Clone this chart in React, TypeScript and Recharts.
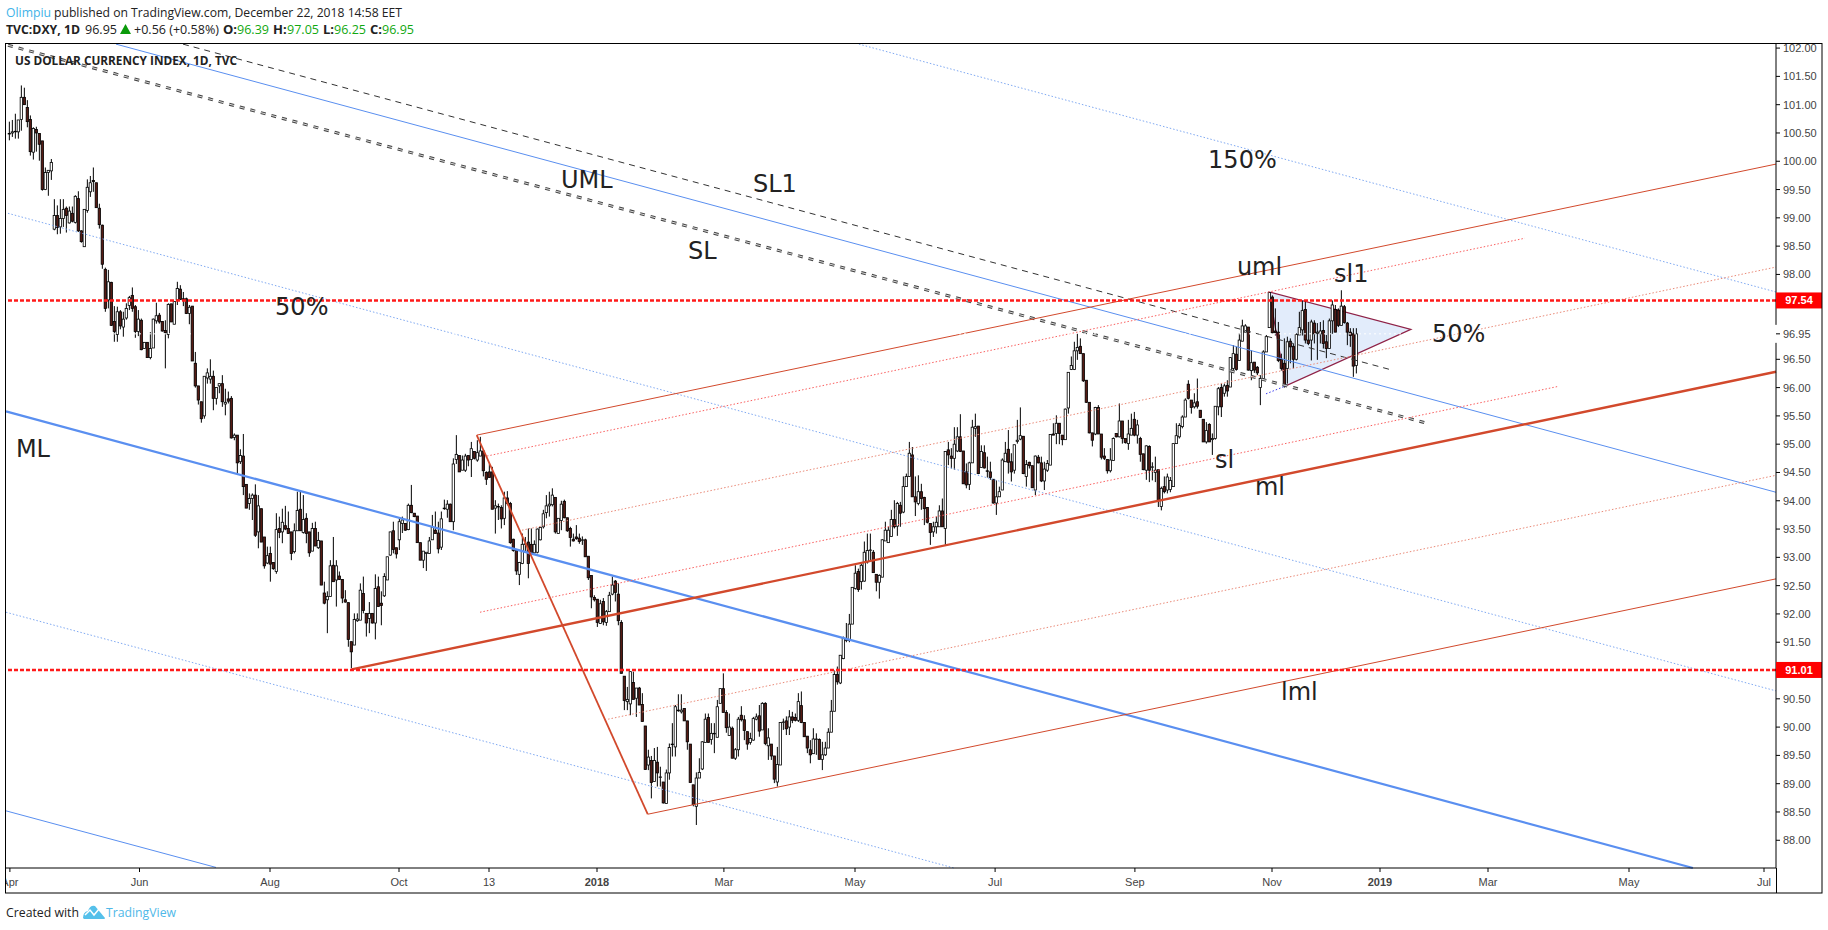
import React from 'react';
import { ComposedChart, Bar, XAxis, YAxis, ReferenceLine, ReferenceDot, ReferenceArea } from 'recharts';

// daily candles, each row [open, high, low, close]
const candlesSpring2017 = [
[100.49,100.70,100.37,100.49],[100.50,100.73,100.43,100.52],[100.53,100.84,100.40,100.52],[100.52,100.73,100.40,100.73],[100.74,101.34,100.54,101.13],[101.13,101.30,101.00,101.00],[100.95,101.08,100.60,100.70],[100.74,100.81,100.10,100.17],[100.16,100.60,100.03,100.58],[100.56,100.61,100.17,100.50],
[100.49,100.49,100.01,100.30],[100.36,100.36,99.48,99.50],[99.50,99.89,99.49,99.80],[99.80,99.84,99.39,99.84],[99.83,100.04,99.67,99.98],[98.80,99.33,98.78,99.04],[99.04,99.22,98.71,98.83],[98.84,99.33,98.72,98.99],[98.99,99.33,98.84,99.15],[99.17,99.20,98.74,99.04],
[98.91,99.20,98.90,99.12],[99.08,99.20,98.92,98.94],[98.92,99.40,98.90,99.38],[99.34,99.47,98.75,98.77],[98.77,98.78,98.56,98.58],[98.49,99.15,98.49,99.15],[99.13,99.68,99.09,99.54],[99.46,99.74,99.37,99.62],[99.66,99.89,99.46,99.64],[99.62,99.62,99.18,99.18],
[99.17,99.25,98.81,98.88],[98.87,98.88,98.10,98.18],[98.09,98.12,97.34,97.40],[97.55,98.08,97.40,97.87],[97.86,97.87,97.09,97.10],[97.17,97.44,96.81,96.99],[96.94,97.43,96.81,97.34],[97.34,97.37,97.03,97.09],[97.07,97.34,96.90,97.21],[97.23,97.49,97.20,97.40],
[97.45,97.62,97.37,97.59],[97.63,97.77,97.34,97.40],[97.43,97.46,96.88,96.99],[96.99,97.37,96.91,97.21],[97.19,97.22,96.66,96.67],[96.69,96.80,96.69,96.80],[96.80,96.80,96.53,96.53],[96.53,96.98,96.50,96.69],[96.70,97.22,96.70,97.21],[97.18,97.50,97.13,97.27],
[97.28,97.32,97.13,97.16],[97.17,97.17,96.99,97.00],[97.01,97.19,96.34,96.97],[96.94,97.49,96.87,97.47],[97.48,97.48,97.16,97.16],[97.12,97.52,97.12,97.52],[97.55,97.87,97.46,97.75],[97.74,97.81,97.55,97.56],[97.57,97.69,97.44,97.55],[97.57,97.59,97.30,97.31],
[97.31,97.46,97.12,97.42],[97.44,97.44,96.47,96.47],[96.43,96.63,96.00,96.03],[96.03,96.03,95.70,95.78]];
const candlesSummer2017 = [
[95.75,95.75,95.38,95.45],[95.50,96.20,95.45,96.20],[96.17,96.34,96.07,96.26],[96.15,96.50,96.07,96.20],[96.20,96.30,95.60,95.81],[95.81,96.00,95.70,96.00],[96.03,96.07,95.90,96.07],[96.07,96.22,95.66,95.75],[95.71,95.98,95.51,95.74],[95.80,95.93,95.72,95.76],
[95.81,95.85,95.10,95.11],[95.12,95.19,95.07,95.16],[95.16,95.16,94.48,94.67],[94.69,94.91,94.65,94.80],[94.79,95.18,94.10,94.25],[94.29,94.29,93.87,93.87],[93.95,94.13,93.84,94.04],[94.04,94.13,93.66,94.10],[94.10,94.29,93.36,93.39],[93.45,94.10,93.16,93.91],
[93.86,93.86,93.27,93.27],[93.36,93.36,92.80,92.85],[92.90,93.19,92.88,93.03],[93.07,93.19,92.57,92.88],[92.91,92.91,92.78,92.80],[92.75,93.78,92.71,93.49],[93.51,93.72,93.34,93.44],[93.45,93.86,93.25,93.62],[93.56,93.91,93.48,93.50],[93.51,93.81,93.42,93.42],
[93.45,93.45,92.95,93.07],[93.10,93.60,93.07,93.47],[93.47,94.16,93.47,93.83],[93.85,94.16,93.47,93.47],[93.44,94.10,93.42,93.67],[93.69,93.78,93.25,93.42],[93.45,93.45,93.01,93.08],[93.11,93.61,93.11,93.51],[93.51,93.63,93.20,93.20],[93.17,93.45,93.15,93.30],
[93.29,93.29,92.51,92.51],[92.37,92.57,92.17,92.19],[92.25,92.40,91.66,92.31],[92.31,92.95,92.31,92.85],[92.86,93.36,92.57,92.57],[92.60,92.95,92.13,92.85],[92.67,92.75,92.60,92.61],[92.61,92.61,92.19,92.28],[92.25,92.42,92.20,92.21],[92.20,92.20,91.42,91.55],
[91.51,91.51,91.04,91.33],[91.45,92.01,91.45,91.90],[91.88,92.01,91.86,91.91],[91.89,92.54,91.89,92.42],[92.36,92.66,92.01,92.06],[92.01,92.01,91.60,91.84],[91.92,92.21,91.66,92.01],[92.01,92.01,91.83,91.84],[91.84,92.70,91.55,92.45],[92.48,92.66,92.13,92.13],
[92.19,92.40,91.80,92.15],[92.32,92.72,92.30,92.66],[92.60,93.01,92.60,93.01],[93.04,93.45,93.03,93.45],[93.47,93.63,93.07,93.14],[93.17,93.17,92.98,93.06],[93.31,93.69,93.13,93.63],[93.60,93.72,93.43,93.66],[93.60,93.60,93.47,93.48],[93.49,93.95,93.48,93.92],
[93.92,94.28,93.78,93.79],[93.78,93.78,93.71,93.72],[93.73,93.73,93.26,93.26],[93.26,93.26,92.95,92.95],[92.95,93.11,92.81,93.11],[93.07,93.09,92.76,93.09],[93.07,93.36,93.07,93.29],[93.31,93.75,93.31,93.53],[93.48,93.81,93.42,93.42],[93.43,93.63,93.07,93.15],
[93.18,93.81,93.13,93.68],[93.86,94.02,93.84,93.87],[93.85,94.01,93.70,93.94],[93.94,93.95,93.63,93.63],[93.63,94.75,93.48,94.65],[94.73,95.16,94.65,94.82],[94.80,94.80,94.51,94.51],[94.54,94.80,94.54,94.72],[94.54,94.83,94.51,94.79],[94.80,94.80,94.61,94.72],
[94.73,95.04,94.42,94.92],[94.87,94.87,94.73,94.75]];
const candlesWinter2018 = [
[94.72,95.07,94.69,94.85],[94.79,95.13,94.79,94.88],[94.88,94.88,94.43,94.53],[94.50,94.52,94.28,94.38],[94.51,94.66,94.41,94.41],[94.51,94.60,93.85,93.85],[93.87,94.01,93.42,93.91],[93.89,93.95,93.66,93.90],[93.88,93.92,93.51,93.68],[93.69,94.16,93.57,94.05],
[94.05,94.17,93.92,93.95],[93.95,93.98,93.24,93.26],[93.32,93.33,93.10,93.12],[93.12,93.12,92.69,92.76],[92.70,92.92,92.51,92.91],[92.89,93.42,92.88,93.23],[93.23,93.36,93.10,93.24],[93.27,93.51,92.63,92.89],[93.23,93.51,93.07,93.08],[93.08,93.30,93.07,93.23],
[93.09,93.51,93.07,93.50],[93.31,93.54,93.30,93.53],[93.54,93.84,93.51,93.77],[93.79,94.10,93.69,93.91],[93.91,94.16,93.72,93.94],[93.93,94.22,93.90,94.10],[94.06,94.06,93.42,93.45],[93.42,93.69,93.42,93.69],[93.65,94.00,93.48,93.94],[93.99,94.02,93.69,93.70],
[93.70,93.70,93.45,93.47],[93.51,93.54,93.19,93.35],[93.32,93.42,93.28,93.29],[93.36,93.57,93.31,93.33],[93.34,93.42,93.24,93.28],[93.31,93.37,93.22,93.31],[93.31,93.33,93.01,93.01],[93.02,93.02,92.60,92.64],[92.68,92.68,92.10,92.30],[92.29,92.33,92.22,92.25],
[92.26,92.26,91.77,91.85],[91.83,92.25,91.83,92.18],[92.22,92.28,91.80,91.86],[91.85,92.07,91.79,92.04],[92.04,92.39,92.04,92.33],[92.35,92.66,92.33,92.51],[92.58,92.60,92.22,92.38],[92.35,92.54,91.80,91.88],[91.85,91.89,90.95,90.95],[90.90,90.90,90.30,90.47],
[90.45,90.71,90.30,90.49],[90.41,90.98,90.21,90.98],[90.79,90.98,90.49,90.49],[90.51,90.69,90.18,90.69],[90.69,90.71,90.39,90.39],[90.40,90.60,90.10,90.10],[90.02,90.02,89.25,89.25],[89.33,89.60,89.24,89.47],[89.41,89.49,88.74,89.02],[89.04,89.63,89.04,89.41],
[89.38,89.65,88.95,89.19],[89.11,89.30,88.95,89.12],[89.03,89.03,88.65,88.66],[88.65,89.25,88.65,89.19],[89.19,89.71,89.07,89.64],[89.69,90.07,89.48,89.70],[89.65,90.39,89.48,90.36],[90.29,90.58,90.27,90.30],[90.27,90.58,90.24,90.30],[90.33,90.33,90.11,90.11],
[90.11,90.11,89.60,89.74],[89.70,89.70,89.02,89.02],[88.98,88.98,88.60,88.63],[88.60,89.20,88.27,89.10],[89.10,89.45,89.10,89.20],[89.26,89.75,89.24,89.74],[89.73,90.24,89.73,90.14],[90.17,90.24,89.73,89.73],[89.78,90.07,89.69,89.89],[89.88,90.07,89.54,89.89],
[89.82,90.48,89.82,90.36],[90.42,90.68,90.42,90.68],[90.68,90.95,90.26,90.26],[90.26,90.30,89.90,89.99],[89.85,90.24,89.85,90.00],[89.98,90.01,89.45,89.45],[89.45,89.63,89.42,89.60],[89.60,90.18,89.48,90.14],[90.21,90.37,90.10,90.13],[90.13,90.21,89.77,89.94],
[89.92,89.92,89.60,89.70],[89.73,89.90,89.69,89.80],[89.77,90.18,89.76,90.15],[90.14,90.24,90.12,90.18],[90.20,90.39,89.83,89.93],[89.95,90.44,89.95,90.42],[90.42,90.44,89.68,89.71],[89.67,89.98,89.42,89.81],[89.70,89.70,89.42,89.49],[89.49,89.49,89.01,89.08]];
const candlesSpring2018 = [
[89.03,89.65,88.95,89.34],[89.33,90.08,89.33,90.08],[90.08,90.15,89.95,90.09],[90.11,90.19,89.86,89.97],[90.00,90.30,89.86,90.18],[90.18,90.27,90.07,90.12],[90.17,90.24,90.10,90.12],[90.12,90.60,90.09,90.45],[90.38,90.63,90.07,90.08],[90.08,90.09,89.83,89.83],
[89.84,89.84,89.54,89.63],[89.60,89.77,89.36,89.51],[89.53,89.98,89.53,89.79],[89.78,89.89,89.51,89.79],[89.78,89.80,89.43,89.43],[89.43,89.74,89.24,89.51],[89.51,89.74,89.49,89.63],[89.63,89.98,89.63,89.91],[89.91,90.48,89.91,90.28],[90.28,91.00,90.28,90.93],
[90.93,91.07,90.75,90.80],[90.78,91.27,90.76,91.27],[91.21,91.60,91.20,91.57],[91.53,91.84,91.50,91.56],[91.53,92.00,91.50,91.82],[91.82,92.47,91.82,92.47],[92.45,92.86,92.43,92.72],[92.75,92.80,92.39,92.43],[92.57,92.89,92.43,92.86],[92.58,93.28,92.57,93.09],
[92.92,93.42,92.89,93.12],[93.12,93.42,92.95,93.13],[93.09,93.13,92.73,92.73],[92.70,92.70,92.40,92.56],[92.56,92.70,92.27,92.68],[92.65,93.32,92.65,93.31],[93.29,93.63,93.29,93.48],[93.26,93.54,93.26,93.48],[93.37,93.84,93.37,93.67],[93.67,94.01,93.51,93.54],
[93.55,93.98,93.38,93.95],[93.92,93.98,93.54,93.78],[93.80,94.43,93.78,94.25],[94.25,94.48,94.28,94.43],[94.43,95.04,94.42,94.84],[94.81,94.95,94.07,94.07],[94.07,94.43,93.73,93.98],[93.95,94.45,93.92,94.16],[94.16,94.30,93.84,94.04],[94.06,94.07,93.57,93.86],
[93.88,93.89,93.60,93.62],[93.60,93.60,93.22,93.44],[93.45,93.63,93.36,93.54],[93.54,93.72,93.42,93.62],[93.54,93.92,93.54,93.82],[93.82,94.04,93.54,93.54],[93.51,94.87,93.22,94.87],[94.90,95.04,94.63,94.81],[94.79,94.93,94.57,94.75],[94.75,95.30,94.55,95.00]];
const candlesSummer2018 = [
[94.88,95.30,94.86,95.13],[95.13,95.53,94.86,94.87],[94.88,94.88,94.30,94.30],[94.51,94.66,94.22,94.28],[94.29,94.69,94.19,94.67],[94.67,95.43,94.67,95.30],[95.28,95.54,95.13,95.31],[95.32,95.32,94.47,94.48],[94.59,94.98,94.59,94.87],[94.85,94.98,94.57,94.58],
[94.53,94.78,94.41,94.52],[94.51,94.69,94.37,94.41],[94.38,94.38,93.95,93.96],[93.96,94.36,93.75,94.07],[94.07,94.25,94.07,94.16],[94.19,94.75,94.19,94.72],[94.69,95.04,94.69,94.84],[94.91,95.25,94.48,94.68],[94.69,94.84,94.34,94.51],[94.54,94.99,94.48,94.99],
[95.05,95.43,95.01,95.07],[95.09,95.65,95.07,95.15],[95.14,95.14,94.47,94.48],[94.43,94.72,94.25,94.64],[94.68,94.69,94.57,94.62],[94.62,94.62,94.23,94.23],[94.19,94.80,94.10,94.79],[94.77,94.81,94.66,94.67],[94.67,94.78,94.33,94.35],[94.35,94.69,94.19,94.56],
[94.54,94.72,94.51,94.66],[94.63,95.17,94.63,95.17],[95.18,95.37,95.16,95.16],[95.19,95.51,95.00,95.37],[95.37,95.37,95.00,95.19],[95.16,95.16,94.98,95.08],[95.08,95.63,95.08,95.62],[95.64,96.27,95.54,96.27],[96.32,96.55,96.31,96.39],[96.32,96.81,96.31,96.65],
[96.65,96.95,96.49,96.71],[96.73,96.87,96.60,96.60],[96.60,96.60,96.10,96.12],[96.13,96.13,95.73,95.74],[95.74,95.74,95.19,95.20],[95.20,95.20,94.96,95.07],[95.18,95.66,95.16,95.65],[95.65,95.69,95.18,95.18],[95.18,95.18,94.73,94.77],[94.79,94.93,94.72,94.75],
[94.73,94.73,94.48,94.53],[94.53,94.93,94.50,94.72],[94.71,95.12,94.71,95.10],[95.19,95.19,95.12,95.13],[95.13,95.72,95.12,95.41],[95.41,95.41,95.01,95.10],[95.10,95.10,95.01,95.03]];
const candlesAutumn2018 = [
[95.01,95.43,94.90,95.18],[95.16,95.54,95.16,95.28],[95.44,95.57,95.14,95.16],[95.16,95.43,95.01,95.34],[95.10,95.13,94.69,94.82],[94.83,94.83,94.54,94.55],[94.54,94.98,94.37,94.97],[94.96,94.98,94.33,94.54],[94.60,94.68,94.36,94.60],[94.50,94.78,94.33,94.54],
[94.55,94.55,93.89,94.01],[93.90,94.25,93.83,94.22],[94.25,94.43,94.13,94.16],[94.19,94.48,94.13,94.42],[94.20,94.42,94.15,94.36],[94.25,95.01,94.25,95.01],[95.01,95.37,95.01,95.15],[95.13,95.37,95.10,95.33],[95.31,95.51,95.28,95.48],[95.48,95.81,95.48,95.78],
[96.06,96.13,95.79,95.81],[95.78,95.78,95.54,95.65],[95.66,95.90,95.63,95.73],[95.75,96.16,95.63,95.67],[95.60,95.60,95.47,95.47],[95.44,95.44,95.04,95.04],[95.04,95.39,95.01,95.24],[95.35,95.37,95.04,95.04],[95.08,95.19,94.81,95.10],[95.10,95.67,95.08,95.67],
[95.66,96.01,95.51,95.98],[96.00,96.07,95.48,95.66],[95.90,96.07,95.84,96.03],[96.04,96.13,95.84,95.94],[96.01,96.54,96.01,96.53],[96.34,96.75,96.30,96.60],[96.59,96.72,96.30,96.32],[96.48,96.96,96.48,96.84],[96.82,97.20,96.82,97.09],[96.98,97.12,96.98,97.09],
[97.07,97.07,96.30,96.31],[96.30,96.66,96.13,96.44],[96.45,96.45,96.26,96.31],[96.36,96.38,96.22,96.26],[96.00,96.22,95.69,96.16],[96.16,96.66,96.14,96.63],[96.63,96.93,96.63,96.90],[97.06,97.69,97.06,97.68],[97.60,97.63,96.96,96.97]];
const candlesDecember2018 = [
[97.00,97.40,96.92,96.97],[96.98,97.16,96.45,96.48],[96.50,96.60,96.30,96.34],[96.43,96.87,96.00,96.05],[96.34,96.90,96.07,96.81],[96.82,96.87,96.43,96.72],[96.73,96.78,96.34,96.50],[96.50,96.96,96.48,96.94],[96.93,97.34,96.93,97.06],[97.02,97.53,96.92,97.36],
[97.38,97.54,96.78,96.84],[96.84,97.16,96.75,96.78],[96.84,97.20,96.48,97.16],[97.14,97.19,96.78,96.95],[96.96,97.14,96.49,96.98],[96.95,97.16,96.78,97.00],[97.01,97.19,96.69,96.78],[96.81,96.93,96.52,96.69],[96.69,97.22,96.69,97.18],[97.18,97.54,96.95,97.46],
[97.38,97.46,96.98,96.98],[97.37,97.40,97.07,97.10],[97.10,97.72,97.10,97.44],[97.43,97.46,97.13,97.15],[97.14,97.16,96.75,96.98],[96.98,97.05,96.72,96.92],[96.95,97.05,96.19,96.38],[96.39,97.05,96.25,96.95]];

const allCandles = [...candlesSpring2017, ...candlesSummer2017, ...candlesWinter2018, ...candlesSpring2018, ...candlesSummer2018, ...candlesAutumn2018, ...candlesDecember2018];
const chartRows = allCandles.map((r, i) => ({ i, o: r[0], h: Math.max(r[0], r[1], r[3]), l: Math.min(r[0], r[2], r[3]), c: r[3], range: [Math.min(r[0], r[2], r[3]), Math.max(r[0], r[1], r[3])] }));

const barDomain = [-1, 589];
const priceDomain = [87.51, 102.09];
const monthTicks = [0.3, 43.5, 87, 130, 160, 196, 238.3, 282, 328.7, 375.3, 421, 457, 493, 540, 585];
const monthLabels = ['Apr', 'Jun', 'Aug', 'Oct', '13', '2018', 'Mar', 'May', 'Jul', 'Sep', 'Nov', '2019', 'Mar', 'May', 'Jul'];
const priceTicks = [102, 101.5, 101, 100.5, 100, 99.5, 99, 98.5, 98, 97.54, 96.95, 96.5, 96, 95.5, 95, 94.5, 94, 93.5, 93, 92.5, 92, 91.5, 91.01, 90.5, 90, 89.5, 89, 88.5, 88];
const taggedPrices = [97.54, 91.01];
const lastPrice = 96.95;

const BLUE = '#5a8ff0', BLUE_DOT = '#7fa9f2', RED = '#d2492c', RED_DOT = '#fa5f5f', SALMON = '#ea8a78', GREY = '#444';
// [bar, price, bar, price, colour, width, dash]
const trendLines: [number, number, number, number, string, number, string?][] = [
  [-1, 95.58, 561.3, 87.51, BLUE, 2.2],
  [35.67, 102.07, 589, 94.15, BLUE, 1],
  [-0.33, 99.08, 589, 90.64, BLUE_DOT, 1, '1.5 2'],
  [-1, 92.03, 315, 87.51, BLUE_DOT, 1, '1.5 2'],
  [-1, 88.52, 69, 87.52, BLUE, 1],
  [283.3, 102.07, 589, 97.69, BLUE_DOT, 1, '1.5 2'],
  [58, 102.07, 460.3, 96.32, '#333', 1, '6 5'],
  [-0.33, 102.05, 472.7, 95.37, GREY, 3, '5 5.9'],
  [-0.33, 102.05, 472.7, 95.37, '#fff', 0.8, '5 5.9'],
  [114.2, 91.02, 589, 96.28, RED, 2.4],
  [155.9, 95.16, 589, 99.95, RED, 1],
  [212.9, 88.46, 589, 92.62, RED, 1],
  [155.9, 95.16, 212.9, 88.46, RED, 1.8],
  [159.3, 94.79, 505.3, 98.64, RED_DOT, 1, '1.5 2'],
  [171, 93.48, 589, 98.13, SALMON, 1, '1.5 2'],
  [157, 92.03, 516.3, 96.02, RED_DOT, 1, '1.5 2'],
  [199.7, 90.14, 589, 94.45, SALMON, 1, '1.5 2'],
  [419, 95.89, 425.6, 96.03, '#3a3af0', 1, '1.5 2'],
];
const triangleBars = [420, 425.6, 467.3];
const trianglePrices = [97.69, 96.03, 97.03];
const annotationTexts = ['UML', 'SL1', 'SL', '150%', 'uml', 'sl1', '50%', 'sl', 'ml', 'lml', 'ML', '50%'];
const annotationBars = [184, 248, 226.3, 399.7, 409.3, 441.7, 474.3, 402, 415.3, 424, 2.3, 88.7];
const annotationPrices = [99.52, 99.45, 98.27, 99.88, 97.99, 97.86, 96.8, 94.58, 94.1, 90.48, 94.77, 97.28];

const Candle = (p: any) => {
  const { x, y, width, height, payload } = p;
  const cx = x + width / 2 + 0.5;
  const perPrice = height / (payload.h - payload.l || 1);
  const yOpen = y + (payload.h - payload.o) * perPrice;
  const yClose = y + (payload.h - payload.c) * perPrice;
  const top = Math.min(yOpen, yClose);
  const up = payload.c >= payload.o;
  return (
    <g>
      <line x1={cx} x2={cx} y1={y} y2={y + height} stroke="#000" strokeWidth={1} />
      <rect x={cx - 1.2} y={top} width={2.4} height={Math.max(Math.abs(yClose - yOpen), 0.5)} fill={up ? '#fff' : '#551a14'} stroke="#000" strokeWidth={0.8} />
    </g>
  );
};

const PriceTick = (p: any) => {
  const { x, y, payload } = p;
  const v = payload.value;
  const ax = x - 8;
  if (taggedPrices.includes(v)) {
    return (
      <g>
        <rect x={ax} y={y - 8} width={46} height={16} fill="#ff0000" />
        <text x={ax + 23} y={y + 4} textAnchor="middle" fontFamily="Liberation Sans" fontWeight="bold" fontSize={11} fill="#fff">{v.toFixed(2)}</text>
      </g>
    );
  }
  return (
    <g>
      {v === lastPrice && <rect x={ax - 1} y={y - 9} width={46} height={18} fill="#fff" />}
      <line x1={ax} x2={ax + 4} y1={y} y2={y} stroke="#000" />
      <text x={ax + 7} y={y + 4} fontFamily="Liberation Sans" fontSize={11} fill="#444">{v.toFixed(2)}</text>
    </g>
  );
};

const MonthTick = (p: any) => {
  const { x, y, index } = p;
  const label = monthLabels[index];
  const bold = /^20/.test(label);
  return (
    <g>
      <line x1={x} x2={x} y1={y - 8} y2={y - 4} stroke="#000" />
      <text x={x} y={y + 10} textAnchor="middle" fontFamily="Liberation Sans" fontSize={11} fontWeight={bold ? 'bold' : 'normal'} fill="#444">{label}</text>
    </g>
  );
};

const Triangle = (p: any) => {
  const { x, y, width, height } = p;
  const x0 = triangleBars[0], x1 = Math.max(...triangleBars);
  const pTop = Math.max(...trianglePrices), pBot = Math.min(...trianglePrices);
  const pts = triangleBars.map((b, k) => `${x + ((b - x0) / (x1 - x0)) * width},${y + ((pTop - trianglePrices[k]) / (pTop - pBot)) * height}`).join(' ');
  return <polygon points={pts} fill="#e2ecfb" stroke="#8f2247" strokeWidth={1.2} />;
};

export default function App() {
  return (
    <div style={{ position: 'absolute', left: 0, top: 0, width: 1828, height: 930, background: '#fff', overflow: 'hidden' }}>
      <ComposedChart width={1828} height={930} data={chartRows} margin={{ top: 43, right: 0, bottom: 0, left: 6 }}>
        <XAxis dataKey="i" type="number" domain={barDomain} ticks={monthTicks} interval={0} allowDataOverflow tick={<MonthTick />} tickLine={false} axisLine={{ stroke: '#000' }} height={62} />
        <YAxis orientation="right" type="number" domain={priceDomain} ticks={priceTicks} interval={0} allowDataOverflow tick={<PriceTick />} tickLine={false} axisLine={{ stroke: '#000' }} width={52} />
        <ReferenceArea x1={triangleBars[0]} x2={triangleBars[2]} y1={trianglePrices[1]} y2={trianglePrices[0]} shape={<Triangle />} ifOverflow="visible" />
        {trendLines.map((t, k) => (
          <ReferenceLine key={k} segment={[{ x: t[0], y: t[1] }, { x: t[2], y: t[3] }]} stroke={t[4]} strokeWidth={t[5]} strokeDasharray={t[6]} ifOverflow="visible" />
        ))}
        <ReferenceLine y={97.54} stroke="#ff1a1a" strokeWidth={2.4} strokeDasharray="4 2" />
        <ReferenceLine y={91.01} stroke="#ff1a1a" strokeWidth={2.4} strokeDasharray="4 2" />
        <Bar dataKey="range" barSize={3} shape={<Candle />} isAnimationActive={false} />
        <ReferenceLine y={lastPrice} stroke="#fff" strokeWidth={1} strokeDasharray="2 3" />
        {annotationTexts.map((t, k) => (
          <ReferenceDot key={k} x={annotationBars[k]} y={annotationPrices[k]} r={0} ifOverflow="visible" shape={(s: any) => <text x={s.cx} y={s.cy} fontFamily="DejaVu Sans" fontSize={24} fill="#222">{t}</text>} />
        ))}
      </ComposedChart>
      <svg width={1828} height={930} style={{ position: 'absolute', left: 0, top: 0, pointerEvents: 'none' }}>
        <rect x={0} y={868} width={5.5} height={30} fill="#fff" />
        <rect x={5.5} y={43.5} width={1816.5} height={849.5} fill="none" stroke="#000" />
        <line x1={1776.5} x2={1776.5} y1={868} y2={893} stroke="#000" />
        <g fontFamily="Open Sans" fontSize={13} fill="#222">
          <text x={6} y={17} textLength={45} lengthAdjust="spacingAndGlyphs" fill="#3fb3e8">Olimpiu</text>
          <text x={54} y={17} textLength={348} lengthAdjust="spacingAndGlyphs">published on TradingView.com, December 22, 2018 14:58 EET</text>
          <text x={6} y={34} textLength={74} lengthAdjust="spacingAndGlyphs" fontWeight="bold">TVC:DXY, 1D</text>
          <text x={85} y={34} textLength={32} lengthAdjust="spacingAndGlyphs">96.95</text>
          <polygon points="120,34 131,34 125.5,24" fill="#0a9a0a" />
          <text x={134} y={34} textLength={85} lengthAdjust="spacingAndGlyphs">+0.56 (+0.58%)</text>
          <text x={223} y={34} fontWeight="bold">O:</text><text x={237} y={34} textLength={32} lengthAdjust="spacingAndGlyphs" fill="#11a811">96.39</text>
          <text x={273} y={34} fontWeight="bold">H:</text><text x={287} y={34} textLength={32} lengthAdjust="spacingAndGlyphs" fill="#11a811">97.05</text>
          <text x={323} y={34} fontWeight="bold">L:</text><text x={334} y={34} textLength={32} lengthAdjust="spacingAndGlyphs" fill="#11a811">96.25</text>
          <text x={370} y={34} fontWeight="bold">C:</text><text x={382} y={34} textLength={32} lengthAdjust="spacingAndGlyphs" fill="#11a811">96.95</text>
          <text x={15} y={65} textLength={222} lengthAdjust="spacingAndGlyphs" fontSize={12} fontWeight="bold" fill="#222">US DOLLAR CURRENCY INDEX, 1D, TVC</text>
          <text x={6} y={917} textLength={73} lengthAdjust="spacingAndGlyphs">Created with</text>
          <path d="M83 918 Q83 912 88 911 Q90 905 95 906 L105 918 Q105 919 104 919 L84 919 Z" fill="#55c0ea" />
          <path d="M85 915 L90 910 L94 915 L99 909" fill="none" stroke="#fff" strokeWidth={1.5} />
          <text x={106} y={917} textLength={70} lengthAdjust="spacingAndGlyphs" fill="#4fb8e8">TradingView</text>
        </g>
      </svg>
    </div>
  );
}
